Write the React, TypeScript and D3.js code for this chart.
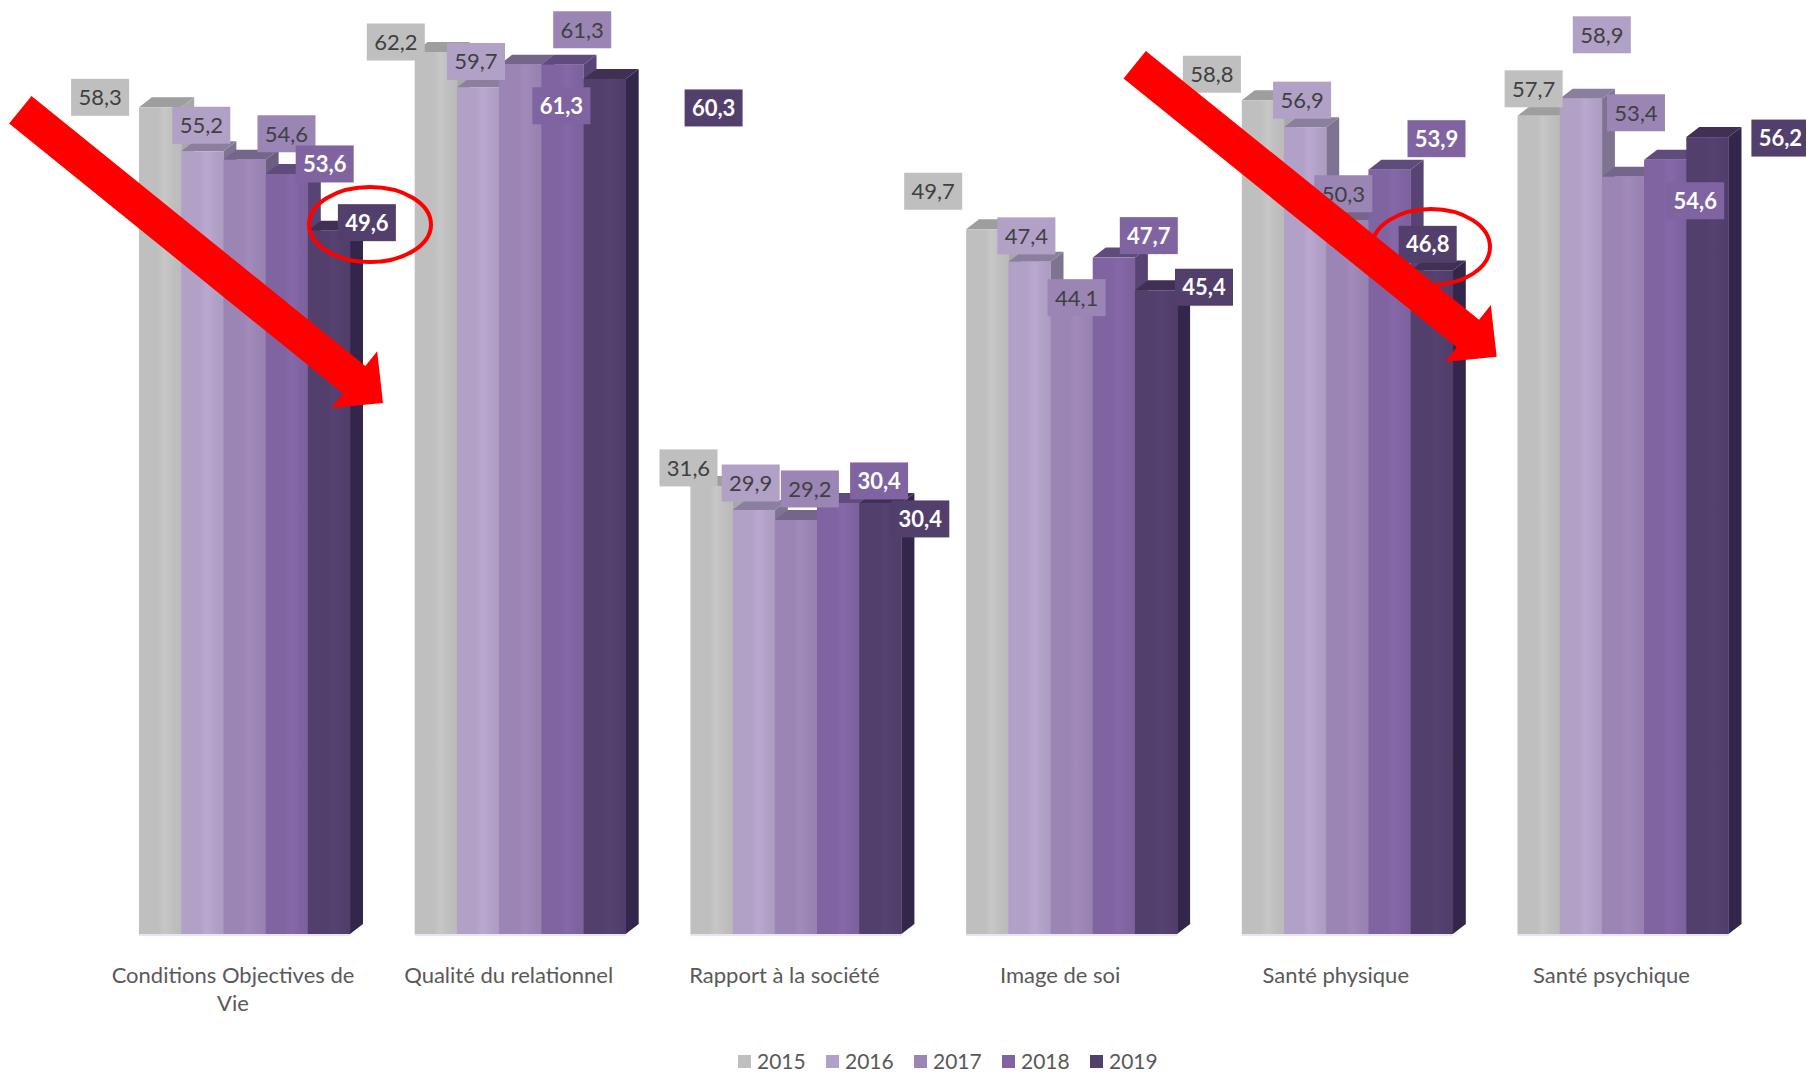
import React, { useEffect, useRef } from "react";
import * as d3 from "d3";

const categories = [
  "Conditions Objectives de Vie",
  "Qualité du relationnel",
  "Rapport à la société",
  "Image de soi",
  "Santé physique",
  "Santé psychique",
];
const years = ["2015", "2016", "2017", "2018", "2019"];
const v2015 = [58.3, 62.2, 31.6, 49.7, 58.8, 57.7];
const v2016 = [55.2, 59.7, 29.9, 47.4, 56.9, 58.9];
const v2017 = [54.6, 61.3, 29.2, 44.1, 50.3, 53.4];
const v2018 = [53.6, 61.3, 30.4, 47.7, 53.9, 54.6];
const v2019 = [49.6, 60.3, 30.4, 45.4, 46.8, 56.2];
const seriesValues = [v2015, v2016, v2017, v2018, v2019];

// styles
const frontColors = ["#BFBFBF", "#B2A1C7", "#9B85B4", "#8064A2", "#523F6C"];
const topColors = ["#9E9E9E", "#8B7FA0", "#74658A", "#5F4B7C", "#3F3054"];
const sideColors = ["#A8A8A8", "#7F7392", "#6C5E80", "#574474", "#33264A"];
const labelText = ["#404040", "#404040", "#404040", "#FFFFFF", "#FFFFFF"];
const labelWeight = [400, 400, 400, 700, 700];

// manual label offsets (layout) relative to the bar's front-top centre: [dx, dy] per series per category
const labelOffsets = [
  [[-60, -10], [-40, -10], [-23, -18], [-54, -38], [-51, -26], [-5, -27]],
  [[-1, -26], [-2, -26], [-3, -27], [-3, -26], [-3, -27], [21, -64]],
  [[42, -26], [62, -35], [14, -31], [5, -11], [-4, -27], [13, -64]],
  [[38, -10], [-1, 41], [41, -22], [35, -22], [47, -31], [30, 41]],
  [[38, -8], [109, 29], [40, 16], [48, -3], [-4, -26], [73, 1]],
];

const W = 1806;
const H = 1072;
const BASE = 934;
const PX_PER_UNIT = 14.18;
const DX = 13;
const DY = -10;

export default function App() {
  const ref = useRef<SVGSVGElement | null>(null);

  useEffect(() => {
    const svg = d3.select(ref.current);
    svg.selectAll("*").remove();
    const font = "Lato, 'Noto Sans', sans-serif";

    const x = d3
      .scaleBand<string>()
      .domain(categories)
      .range([139, 1728.5])
      .paddingInner(0.2347)
      .paddingOuter(0);
    const xi = d3.scaleBand<string>().domain(years).range([0, x.bandwidth()]).padding(0);
    const y = d3
      .scaleLinear()
      .domain([0, 65])
      .range([BASE, BASE - 65 * PX_PER_UNIT]);

    const defs = svg.append("defs");
    frontColors.forEach((c, i) => {
      const g = defs
        .append("linearGradient")
        .attr("id", `fg${i}`)
        .attr("x1", "0")
        .attr("x2", "1")
        .attr("y1", "0")
        .attr("y2", "0");
      const col = d3.color(c)!;
      g.append("stop").attr("offset", "0").attr("stop-color", c);
      g.append("stop").attr("offset", "0.45").attr("stop-color", c);
      g.append("stop").attr("offset", "0.6").attr("stop-color", col.brighter(0.12).formatHex());
      g.append("stop").attr("offset", "0.8").attr("stop-color", c);
      g.append("stop").attr("offset", "1").attr("stop-color", col.darker(0.08).formatHex());
    });

    const bars = svg.append("g");
    categories.forEach((cat, ci) => {
      const gx = x(cat)!;
      // floor edge
      bars
        .append("line")
        .attr("x1", gx)
        .attr("x2", gx + x.bandwidth())
        .attr("y1", y(0) + 1)
        .attr("y2", y(0) + 1)
        .attr("stroke", "#E4D8F0")
        .attr("stroke-width", 1.5);
      years.forEach((yr, si) => {
        const v = seriesValues[si][ci];
        const x0 = gx + xi(yr)!;
        const w = xi.bandwidth();
        const yt = y(v);
        const yb = y(0);
        const g = bars.append("g");
        g.append("polygon")
          .attr(
            "points",
            [
              [x0 + w, yt],
              [x0 + w + DX, yt + DY],
              [x0 + w + DX, yb + DY],
              [x0 + w, yb],
            ]
              .map((p) => p.join(","))
              .join(" ")
          )
          .attr("fill", sideColors[si]);
        g.append("polygon")
          .attr(
            "points",
            [
              [x0, yt],
              [x0 + DX, yt + DY],
              [x0 + w + DX, yt + DY],
              [x0 + w, yt],
            ]
              .map((p) => p.join(","))
              .join(" ")
          )
          .attr("fill", topColors[si]);
        g.append("rect")
          .attr("x", x0)
          .attr("y", yt)
          .attr("width", w + 0.3)
          .attr("height", yb - yt)
          .attr("fill", `url(#fg${si})`);
      });
    });

    // data labels
    const labels = svg.append("g");
    const BW = 58;
    const BH = 37;
    years.forEach((yr, si) => {
      categories.forEach((cat, ci) => {
        const v = seriesValues[si][ci];
        const cx = x(cat)! + xi(yr)! + xi.bandwidth() / 2 + labelOffsets[si][ci][0];
        const cy = y(v) + labelOffsets[si][ci][1];
        labels
          .append("rect")
          .attr("x", cx - BW / 2)
          .attr("y", cy - BH / 2)
          .attr("width", BW)
          .attr("height", BH)
          .attr("fill", frontColors[si]);
        labels
          .append("text")
          .attr("x", cx)
          .attr("y", cy)
          .attr("dy", "0.36em")
          .attr("text-anchor", "middle")
          .attr("font-family", font)
          .attr("font-size", 22)
          .attr("font-weight", labelWeight[si])
          .attr("fill", labelText[si])
          .text(d3.format(".1f")(v).replace(".", ","));
      });
    });

    // category labels
    const catG = svg.append("g");
    categories.forEach((cat) => {
      const cx = x(cat)! + x.bandwidth() / 2 - 11.5;
      const t = catG
        .append("text")
        .attr("x", cx)
        .attr("y", 983)
        .attr("text-anchor", "middle")
        .attr("font-family", font)
        .attr("font-size", 22)
        .attr("fill", "#595959");
      const words = cat.split(" ");
      let line: string[] = [];
      let tspan = t.append("tspan").attr("x", cx).attr("dy", 0);
      const maxW = 268;
      words.forEach((wd) => {
        line.push(wd);
        tspan.text(line.join(" "));
        if ((tspan.node() as SVGTSpanElement).getComputedTextLength() > maxW && line.length > 1) {
          line.pop();
          tspan.text(line.join(" "));
          line = [wd];
          tspan = t.append("tspan").attr("x", cx).attr("dy", 28).text(wd);
        }
      });
    });

    // legend
    const leg = svg.append("g");
    years.forEach((yr, si) => {
      const lx = 738 + si * 88;
      leg
        .append("rect")
        .attr("x", lx)
        .attr("y", 1055)
        .attr("width", 13)
        .attr("height", 13)
        .attr("fill", frontColors[si]);
      leg
        .append("text")
        .attr("x", lx + 19)
        .attr("y", 1069)
        .attr("font-family", font)
        .attr("font-size", 21)
        .attr("fill", "#595959")
        .text(yr);
    });

    // annotations: red arrows and ellipses
    const ann = svg.append("g");
    const arrows = [
      { from: [20.3, 109.7], to: [383, 403] },
      { from: [1134.7, 64.8], to: [1496.7, 356.7] },
    ];
    arrows.forEach((a) => {
      const [x1, y1] = a.from;
      const [x2, y2] = a.to;
      const L = Math.hypot(x2 - x1, y2 - y1);
      const ang = (Math.atan2(y2 - y1, x2 - x1) * 180) / Math.PI;
      const hw = 17.75;
      const HW = 36.5;
      const hl = 37;
      const pts = [
        [0, -hw],
        [L - hl, -hw],
        [L - hl, -HW],
        [L, 0],
        [L - hl, HW],
        [L - hl, hw],
        [0, hw],
      ];
      ann
        .append("polygon")
        .attr("points", pts.map((p) => p.join(",")).join(" "))
        .attr("fill", "#FF0000")
        .attr("transform", `translate(${x1},${y1}) rotate(${ang})`);
    });
    const ellipses = [
      { cx: 370, cy: 224.5, rx: 61, ry: 37.5 },
      { cx: 1431, cy: 247, rx: 59, ry: 38 },
    ];
    ellipses.forEach((e) => {
      ann
        .append("ellipse")
        .attr("cx", e.cx)
        .attr("cy", e.cy)
        .attr("rx", e.rx)
        .attr("ry", e.ry)
        .attr("fill", "none")
        .attr("stroke", "#FF0000")
        .attr("stroke-width", 4);
    });
  }, []);

  return (
    <svg
      ref={ref}
      width={W}
      height={H}
      style={{ position: "absolute", left: 0, top: 0, background: "#FFFFFF" }}
    />
  );
}
